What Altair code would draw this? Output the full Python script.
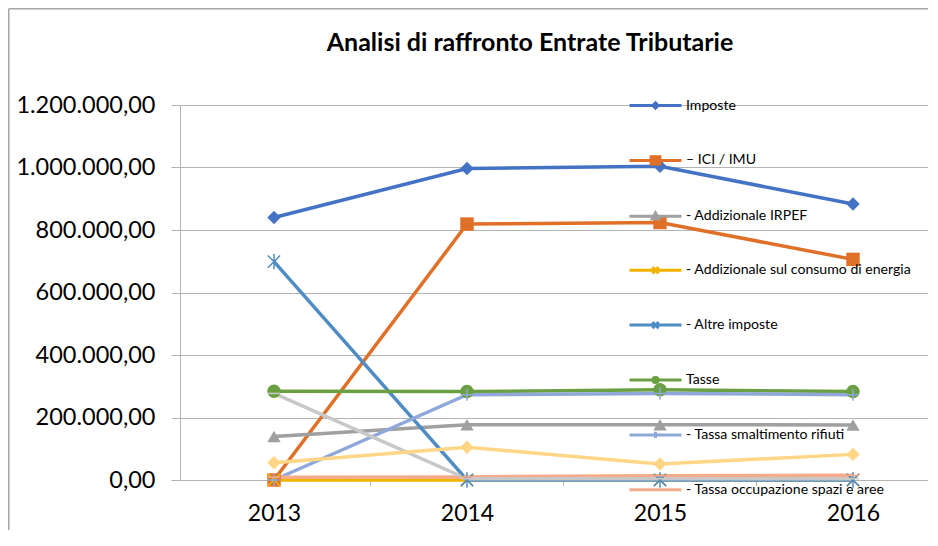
import altair as alt
import pandas as pd

# ---------------- data ----------------
years = [2013, 2014, 2015, 2016]

series = [
    "Imposte",
    "– ICI / IMU",
    "- Addizionale IRPEF",
    "- Addizionale sul consumo di energia",
    "- Altre imposte",
    "Tasse",
    "- Tassa smaltimento rifiuti",
    "- Tassa occupazione spazi e aree",
    "- Altre tasse",
    "Tributi speciali",
]

imposte = [840000, 997000, 1004000, 883000]
ici_imu = [0, 819000, 824000, 706000]
add_irpef = [139000, 177000, 177000, 176000]
add_energia = [0, 0, 0, 0]
altre_imposte = [699000, 0, 0, 0]
tasse = [284000, 283000, 289000, 283000]
tassa_rifiuti = [0, 273000, 277000, 273000]
tassa_occupazione = [9000, 10000, 14000, 15000]
altre_tasse = [277000, 4000, 4000, 4000]
tributi_speciali = [55000, 105000, 51000, 82000]

values = [imposte, ici_imu, add_irpef, add_energia, altre_imposte, tasse,
          tassa_rifiuti, tassa_occupazione, altre_tasse, tributi_speciali]

colors = ["#4472C4", "#E07028", "#A0A0A0", "#F0B400", "#4F8CC4", "#6A9F42",
          "#8FA8DA", "#F4AB8A", "#C8C8C8", "#FFD685"]

legend_names = series[:8]

y_ticks = [0, 200000, 400000, 600000, 800000, 1000000, 1200000]

# ---------------- styling ----------------
FONT = "Lato"
W, H = 748, 375
PAD = {"left": 172, "top": 97, "right": 0, "bottom": 50}

marker_shapes = [
    "diamond",
    "square",
    "triangle-up",
    "M-1,-1L1,1M-1,1L1,-1",
    "M-1,-1L1,1M-1,1L1,-1M0,-1.25V1.25",
    "circle",
    "M-1,0H1M0,-1V1",
    "M-1,0H1",
    "M-1,0H1",
    "diamond",
]
filled_series = [series[i] for i in (0, 1, 2, 5, 9)]
stroked_series = [series[i] for i in (3, 4, 6, 7, 8)]

# legend symbols: horizontal line + small marker (path in a -1..1 box)
legend_shapes = [
    "M-1,0H1M0,-0.1L0.1,0L0,0.1L-0.1,0Z",
    "M-1,0H1M-0.17,-0.14H0.17V0.14H-0.17Z",
    "M-1,0H1M0,-0.13L0.12,0.09H-0.12Z",
    "M-1,0H1M-0.12,-0.12L0.12,0.12M-0.12,0.12L0.12,-0.12",
    "M-1,0H1M-0.12,-0.12L0.12,0.12M-0.12,0.12L0.12,-0.12",
    "M-1,0H1M0.1,0A0.1,0.1,0,1,1,-0.1,0A0.1,0.1,0,1,1,0.1,0Z",
    "M-1,0H1M0,-0.12V0.12",
    "M-1,0H1",
]

rows = []
for k, (name, vals) in enumerate(zip(series, values)):
    for yr, v in zip(years, vals):
        rows.append({"serie": name, "anno": yr, "valore": v, "ordine": k})
df = pd.DataFrame(rows)

legend_df = pd.DataFrame({"serie": legend_names})
ticks_df = pd.DataFrame({"mid": [(a + b) / 2 for a, b in zip(years[:-1], years[1:])]})
frame_df = pd.DataFrame({"k": [0]})

step = 193.0
x0 = years[0] - 94 / step
x1 = x0 + W / step

x_enc = alt.X(
    "anno:Q",
    scale=alt.Scale(domain=[x0, x1], nice=False, zero=False),
    axis=alt.Axis(
        values=years, format="d", ticks=False, grid=False, title=None,
        labelFont=FONT, labelFontSize=23, labelColor="#000000",
        labelPadding=22, domainColor="#B4B4B4", labelFlush=False,
    ),
)
y_enc = alt.Y(
    "valore:Q",
    scale=alt.Scale(domain=[0, 1200000], nice=False),
    axis=alt.Axis(
        values=y_ticks, title=None, grid=True, gridColor="#B4B4B4",
        gridWidth=1, domainColor="#B4B4B4", tickColor="#B4B4B4",
        tickSize=9, labelPadding=16, labelFont=FONT, labelFontSize=23.5,
        labelColor="#000000",
        labelExpr="replace(replace(replace(replace(format(datum.value, ',.2f'), '.', ';'), ',', '.'), ',', '.'), ';', ',')",
    ),
)

color_scale = alt.Scale(domain=series, range=colors)
shape_scale = alt.Scale(domain=series, range=marker_shapes)

lines = alt.Chart(df).mark_line(strokeWidth=3.5).encode(
    x=x_enc,
    y=y_enc,
    color=alt.Color("serie:N", scale=color_scale, legend=None),
    detail="serie:N",
    order="anno:Q",
)

pts_filled = alt.Chart(df).transform_filter(
    alt.FieldOneOfPredicate(field="serie", oneOf=filled_series)
).mark_point(filled=True, opacity=1, size=180).encode(
    x="anno:Q",
    y="valore:Q",
    color=alt.Color("serie:N", scale=color_scale, legend=None),
    shape=alt.Shape("serie:N", scale=shape_scale, legend=None),
)

pts_stroked = alt.Chart(df).transform_filter(
    alt.FieldOneOfPredicate(field="serie", oneOf=stroked_series)
).mark_point(filled=False, opacity=1, size=150, strokeWidth=1.5).encode(
    x="anno:Q",
    y="valore:Q",
    color=alt.Color("serie:N", scale=color_scale, legend=None),
    shape=alt.Shape("serie:N", scale=shape_scale, legend=None),
)

leg = dict(
    title=None, orient="none", legendX=448, legendY=-27, direction="vertical",
    symbolSize=2704, symbolStrokeWidth=3, symbolOpacity=1,
    labelFont=FONT, labelFontSize=14.1, labelColor="#000000",
    labelOffset=3, rowPadding=17.9, padding=0, labelLimit=400,
)
# legend-only layer: its marks are parked off the left edge of the canvas
legend_layer = alt.Chart(legend_df).mark_point(
    filled=True, opacity=1, size=2704, strokeWidth=3
).encode(
    x=alt.value(-3000),
    y=alt.value(H / 2),
    fill=alt.Fill("serie:N", scale=alt.Scale(domain=legend_names, range=colors[:8]),
                  legend=alt.Legend(**leg)),
    stroke=alt.Stroke("serie:N", scale=alt.Scale(domain=legend_names, range=colors[:8]),
                      legend=alt.Legend(**leg)),
    shape=alt.Shape("serie:N", scale=alt.Scale(domain=legend_names, range=legend_shapes),
                    legend=alt.Legend(**leg)),
)

xticks = alt.Chart(ticks_df).mark_rule(color="#B4B4B4", strokeWidth=1).encode(
    x="mid:Q", y=alt.value(H), y2=alt.value(H + 6)
)

frame_left = alt.Chart(frame_df).mark_rule(color="#A6A6A6", strokeWidth=1.5).encode(
    x=alt.value(-PAD["left"] + 0.75), y=alt.value(-PAD["top"] + 0.75),
    y2=alt.value(H + PAD["bottom"]),
)
frame_top = alt.Chart(frame_df).mark_rule(color="#A6A6A6", strokeWidth=1.5).encode(
    x=alt.value(-PAD["left"] + 0.75), x2=alt.value(W + PAD["right"]),
    y=alt.value(-PAD["top"] + 0.75),
)

chart = alt.layer(
    frame_left, frame_top, xticks, lines, pts_filled, pts_stroked, legend_layer
).resolve_scale(
    shape="independent", fill="independent", stroke="independent"
).properties(
    width=W, height=H,
    title=alt.TitleParams(
        "Analisi di raffronto Entrate Tributarie", font=FONT, fontSize=25,
        fontWeight="bold", color="#000000", anchor="middle", dx=-24,
        baseline="alphabetic", offset=-68, frame="group",
    ),
    autosize=alt.AutoSizeParams(type="none"),
    padding=PAD,
).configure_view(stroke=None)

chart.save("out.html", embed_options={"renderer": "svg", "actions": False})
